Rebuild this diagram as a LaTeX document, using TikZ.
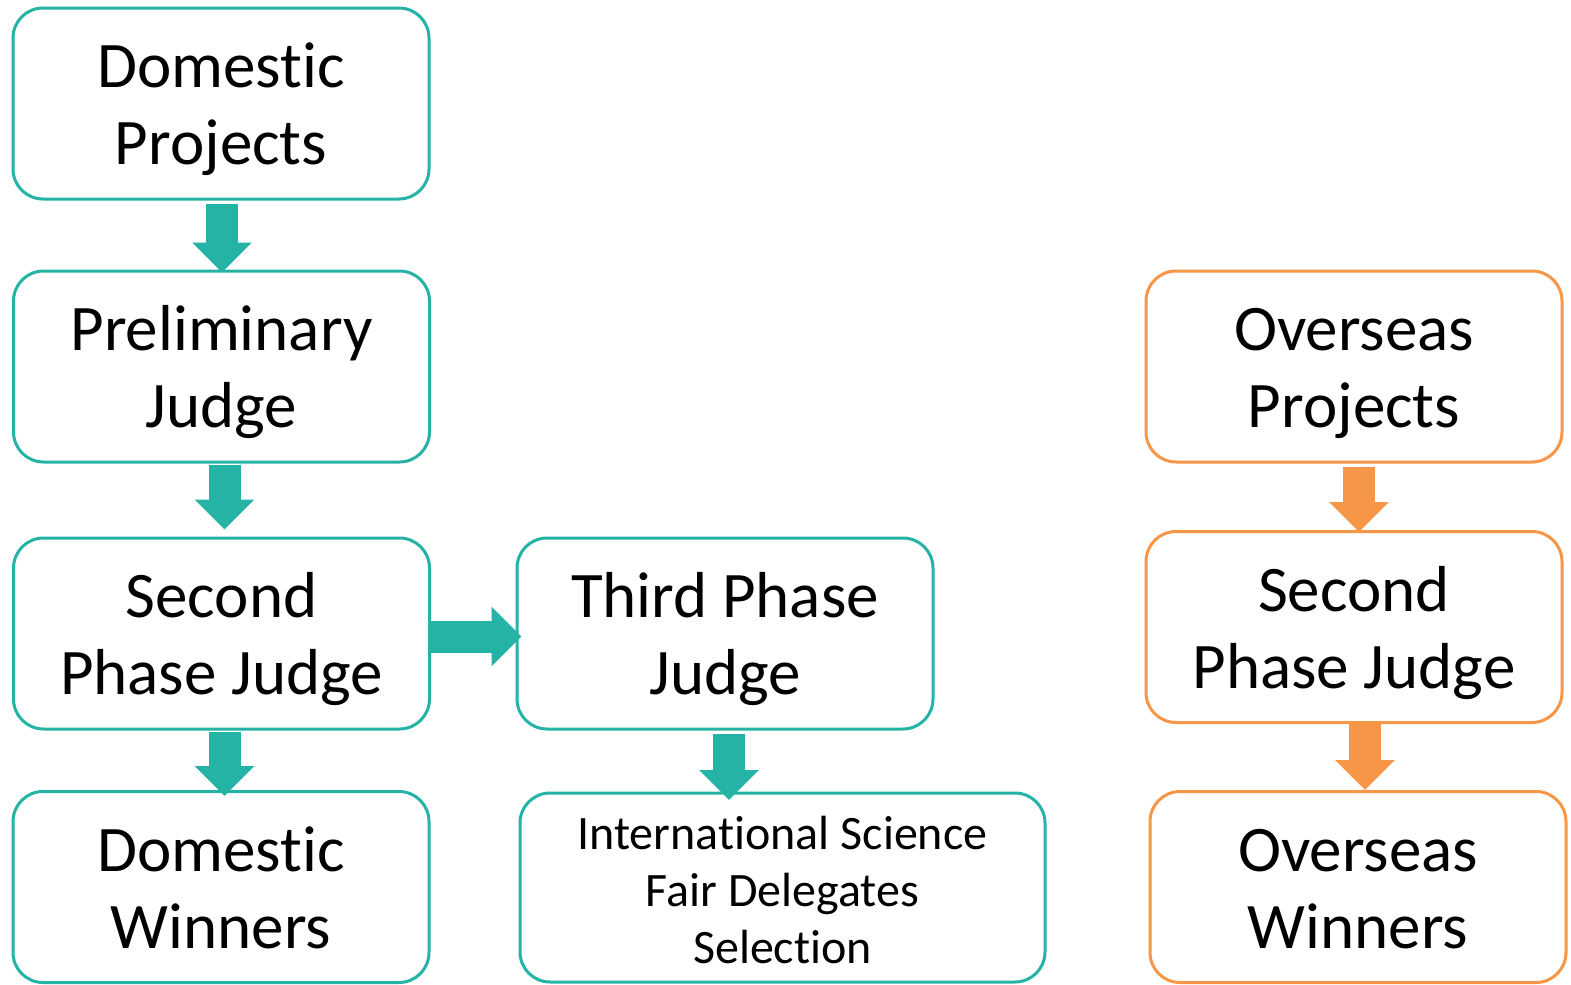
\documentclass[tikz,border=0pt]{standalone}
\usepackage{fontspec}
\setmainfont{Carlito}[Ligatures={NoCommon,NoDiscretionary,NoRare}]
\usetikzlibrary{arrows.meta}
\definecolor{tealc}{RGB}{36,179,164}
\definecolor{orangec}{RGB}{247,150,70}
\newcommand\bt[1]{\raisebox{-3.75pt}[\height][\depth]{\begin{tabular}{@{}c@{}}#1\end{tabular}}}
\tikzset{
  box/.style={draw, line width=1.5pt, rounded corners=15pt, fill=white,
    minimum width=208pt, minimum height=95.5pt, inner sep=2pt,
    font=\fontsize{32.5}{38.5}\selectfont},
  smallbox/.style={box, font=\fontsize{24}{28.5}\selectfont},
  tbox/.style={box, draw=tealc},
  obox/.style={box, draw=orangec},
  blockarrow/.style={line width=16pt, -{Triangle[length=15pt,width=29pt]}},
}
\begin{document}
\begin{tikzpicture}[x=0.5pt,y=-0.5pt]
\useasboundingbox (0,0) rectangle (1571,985);
\node[tbox] (dp) at (221,103.5) {\bt{Domestic\\Projects}};
\node[tbox] (pj) at (221.5,366.5) {\bt{Preliminary\\Judge}};
\node[tbox] (spj) at (221.5,633.5) {\bt{Second\\Phase Judge}};
\node[tbox] (dw) at (221,887) {\bt{Domestic\\Winners}};
\node[tbox] (tpj) at (725,633.5) {\bt{Third Phase\\Judge}};
\node[tbox, smallbox, minimum width=262.5pt, minimum height=94.5pt] (isf) at (782.5,887.5) {\bt{International Science\\Fair Delegates\\Selection}};
\node[obox] (op) at (1354,366.5) {\bt{Overseas\\Projects}};
\node[obox] (ospj) at (1354,627) {\bt{Second\\Phase Judge}};
\node[obox] (ow) at (1358,887) {\bt{Overseas\\Winners}};

\draw[blockarrow, tealc] ([xshift=0.5pt,yshift=-1.5pt]dp.south) -- ([xshift=0.5pt,yshift=-1.5pt]dp.south |- pj.north);
\draw[blockarrow, tealc] ([xshift=1.5pt,yshift=-0.5pt]pj.south) -- ([xshift=1.5pt,yshift=3.5pt]pj.south |- spj.north);
\draw[blockarrow, tealc] ([xshift=1.5pt,yshift=-0.5pt]spj.south) -- ([xshift=1.5pt,yshift=-3pt]spj.south |- dw.north);
\draw[blockarrow, tealc] ([yshift=-1.5pt]spj.east) -- ([xshift=3pt,yshift=-1.5pt]spj.east -| tpj.west);
\draw[blockarrow, tealc] ([xshift=2pt,yshift=-1.5pt]tpj.south) -- ([xshift=2pt,yshift=-4.25pt]tpj.south |- isf.north);
\draw[blockarrow, orangec] ([xshift=2.5pt,yshift=-1.5pt]op.south) -- ([xshift=2.5pt,yshift=-1pt]op.south |- ospj.north);
\draw[blockarrow, orangec] ([xshift=5.5pt]ospj.south) -- ([xshift=5.5pt]ospj.south |- ow.north);
\end{tikzpicture}
\end{document}
